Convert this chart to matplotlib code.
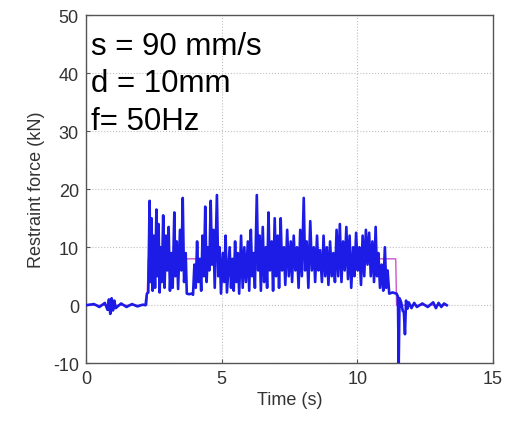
import matplotlib
matplotlib.use('Agg')
import matplotlib.pyplot as plt

plt.rcParams['axes.unicode_minus'] = False

time_s = [0.0, 0.3, 0.5, 0.7, 0.8, 0.85, 0.9, 0.95, 1.0, 1.05, 1.1, 1.3, 1.5, 1.7, 1.9, 2.1, 2.2, 2.25, 2.3,
          2.35, 2.38, 2.42, 2.46, 2.5, 2.55, 2.6, 2.64, 2.68, 2.72, 2.76, 2.8, 2.85, 2.9, 2.95, 3.0, 3.05, 3.1,
          3.15, 3.2, 3.26, 3.3, 3.35, 3.4, 3.47, 3.52, 3.57, 3.62, 3.68, 3.72, 3.8, 3.9, 3.95, 4.0, 4.05, 4.1,
          4.15, 4.2, 4.25, 4.3, 4.35, 4.4, 4.45, 4.5, 4.55, 4.6, 4.65, 4.7, 4.75, 4.83, 4.88, 4.93, 4.98, 5.05,
          5.1, 5.15, 5.2, 5.3, 5.35, 5.4, 5.45, 5.5, 5.55, 5.6, 5.65, 5.72, 5.78, 5.84, 5.9, 5.97, 6.02, 6.08,
          6.13, 6.18, 6.23, 6.3, 6.35, 6.4, 6.45, 6.52, 6.57, 6.63, 6.68, 6.73, 6.78, 6.85, 6.9, 6.96, 7.01,
          7.07, 7.12, 7.18, 7.23, 7.3, 7.35, 7.42, 7.48, 7.55, 7.6, 7.66, 7.72, 7.78, 7.84, 7.9, 7.96, 8.03,
          8.08, 8.14, 8.2, 8.27, 8.33, 8.4, 8.45, 8.52, 8.57, 8.63, 8.7, 8.76, 8.82, 8.88, 8.94, 9.0, 9.06,
          9.12, 9.18, 9.24, 9.3, 9.36, 9.42, 9.48, 9.54, 9.6, 9.66, 9.72, 9.78, 9.85, 9.9, 9.96, 10.02, 10.08,
          10.14, 10.2, 10.26, 10.32, 10.38, 10.44, 10.5, 10.56, 10.62, 10.68, 10.73, 10.78, 10.84, 10.9, 10.96,
          11.02, 11.07, 11.12, 11.18, 11.3, 11.45, 11.5, 11.53, 11.56, 11.62, 11.68, 11.72, 11.76, 11.8, 11.85,
          11.9, 12.0, 12.1, 12.2, 12.4, 12.6, 12.8, 12.9, 13.0, 13.1, 13.2, 13.3]
force_kN = [0.0, 0.2, -0.3, 0.4, -0.8, 1.0, -1.5, 1.2, -0.9, 0.8, -0.5, 0.3, -0.3, 0.2, -0.2, 0.1, 0.0, 2.0, 2.2,
            18.0, 4, 15, 2.5, 12, 3, 16.5, 5, 14, 2.2, 10, 4, 15.5, 3, 12, 6, 13.5, 2.5,
            9, 3, 16, 5, 11, 2.8, 13, 6, 18.5, 4, 9, 2.0, 1.9, 2.0, 1.8, 7, 3, 11,
            4, 8, 2.5, 12, 5, 17, 4, 10, 6, 18, 7, 13, 3, 19, 5, 10, 2.0, 9,
            4, 12, 2.2, 10, 3, 8, 2.5, 11, 4, 9, 2.0, 12, 3, 10, 4, 11, 2.5, 13,
            5, 9, 3, 19, 6, 12, 2.5, 13.5, 4, 10, 3, 16, 6, 11, 2.5, 15, 5,
            12, 3, 15, 6, 10, 3.5, 13, 5, 11, 4, 12, 6, 10, 3, 13, 5, 18.5,
            6, 11, 3, 14.5, 6, 10, 4, 12, 6, 9.5, 4, 12, 5, 10, 3.5, 11, 5,
            9, 4, 13, 5, 14, 4, 11, 6, 13.5, 4.5, 12, 3, 10, 5, 12.5, 6, 10,
            3.5, 12, 5, 13, 7, 12.5, 5, 11, 4, 13.5, 5, 9, 3, 7, 2.5,
            10, 3, 6, 2.0, 2.2, 2.0, 1.5, -10, 1.2, 0.5, -1.0, -1.2, -5, 0.8, -0.6,
            0.5, -0.5, 0.4, -0.3, 0.3, -0.3, 0.5, -0.5, 0.4, -0.3, 0.3, 0.0]

# mean restraint force (magenta step)
mean_time = [0.0, 2.25, 2.3, 11.42, 11.45, 13.3]
mean_force = [0.0, 0.0, 8.0, 8.0, 0.0, 0.0]

x_ticks = [0, 5, 10, 15]
y_ticks = [-10, 0, 10, 20, 30, 40, 50]

fig = plt.figure(figsize=(5.05, 4.27), dpi=100)
ax = fig.add_axes([0.170, 0.147, 0.806, 0.815])

ax.plot(mean_time, mean_force, color='#cc55cc', linewidth=1.0, zorder=2)
ax.plot(time_s, force_kN, color='#1c1ce6', linewidth=1.9, zorder=3)

ax.set_xlim(0, 15)
ax.set_ylim(-10, 50)
ax.set_xticks(x_ticks)
ax.set_yticks(y_ticks)
ax.grid(True, linestyle=':', color='#c0c0c0', linewidth=0.8)
ax.tick_params(direction='in', length=3, labelsize=13, labelcolor='#333333', color='#555555', pad=5)
for lab in ax.get_xticklabels() + ax.get_yticklabels():
    lab.set_family('Liberation Sans')
for sp in ax.spines.values():
    sp.set_color('#555555')
    sp.set_linewidth(1.0)

ax.set_xlabel('Time (s)', fontsize=13, color='#333333', family='Liberation Sans', labelpad=3)
ax.set_ylabel('Restraint force (kN)', fontsize=13, color='#333333', family='Liberation Sans', labelpad=6)

ann = ['s = 90 mm/s', 'd = 10mm', 'f= 50Hz']
for i, s in enumerate(ann):
    ax.text(0.012, 0.89 - i * 0.108, s, transform=ax.transAxes, fontsize=22.5,
            family='Liberation Sans', color='black', va='baseline')

fig.savefig('out.png', dpi=100)
